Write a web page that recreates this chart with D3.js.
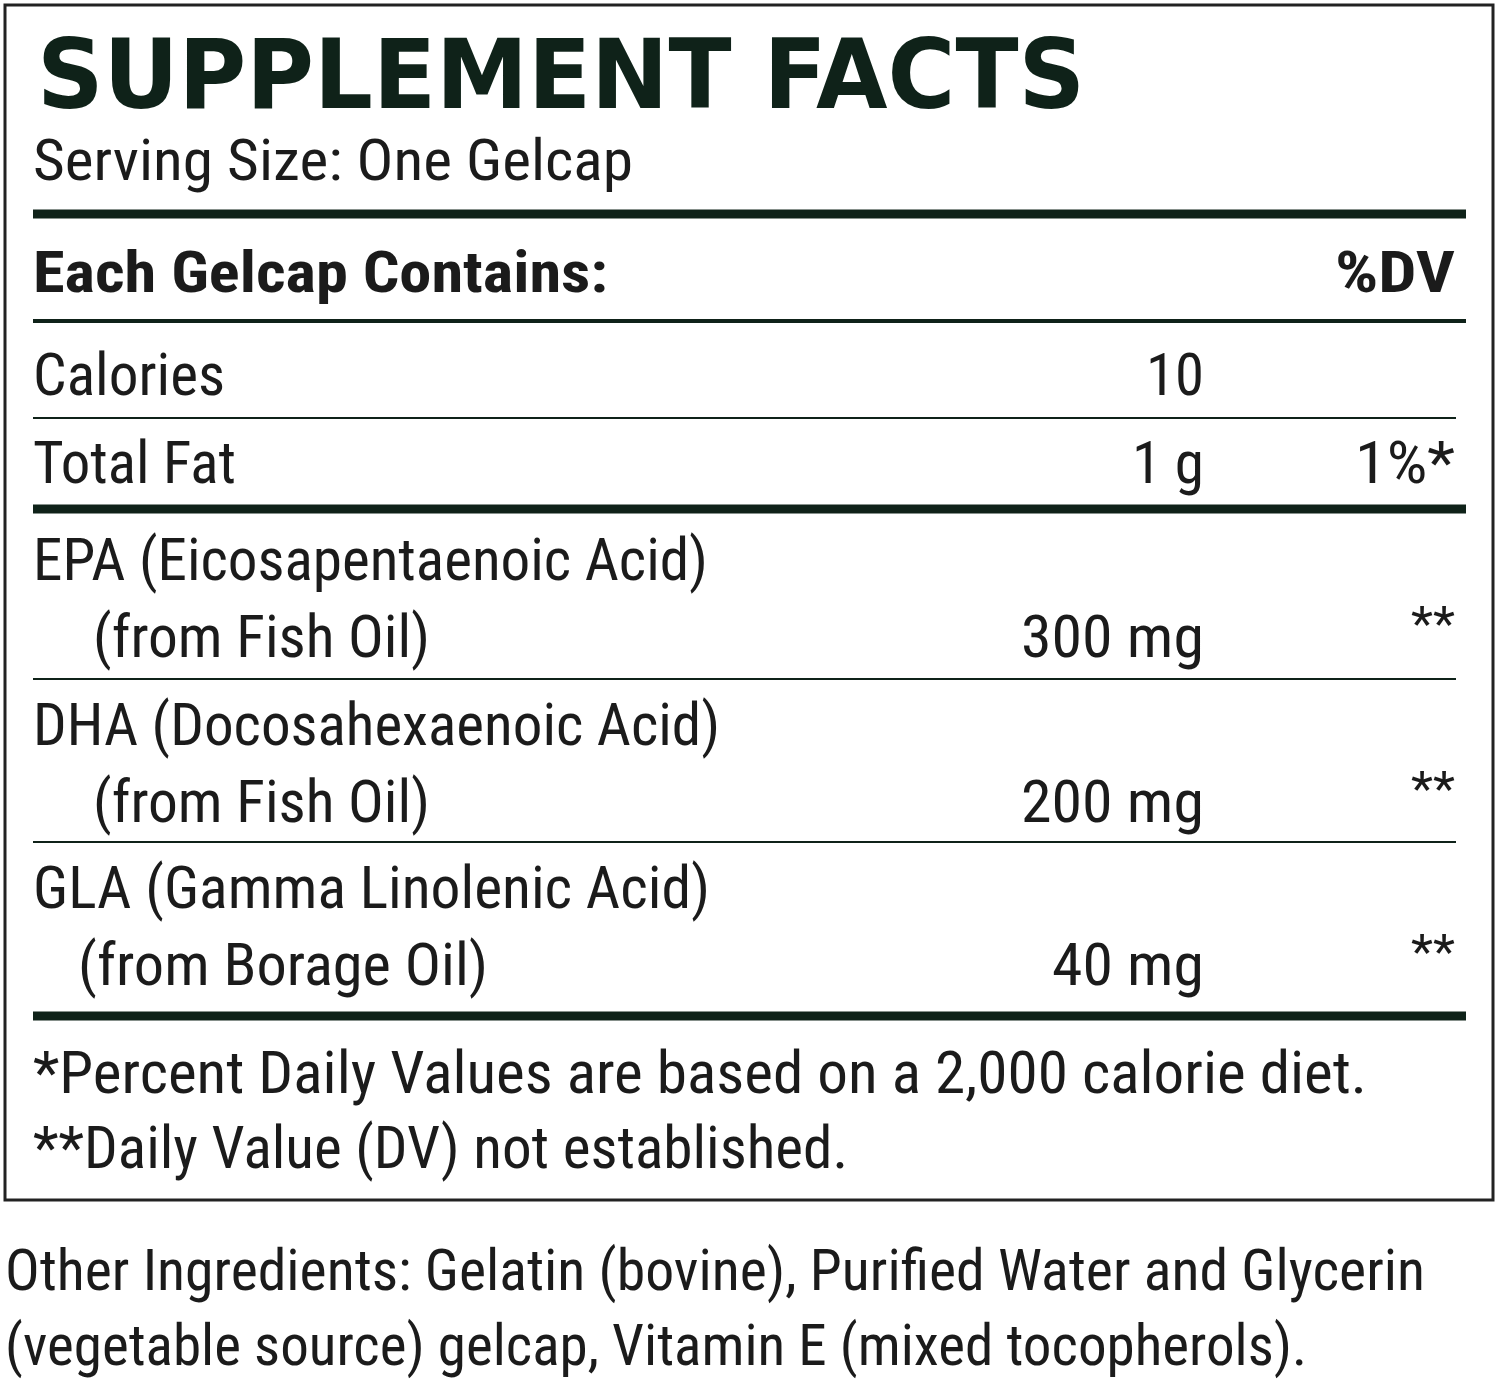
<!DOCTYPE html>
<html><head><meta charset="utf-8">
<script src="https://cdn.jsdelivr.net/npm/d3@7"></script>
<style>body{margin:0;background:#fff}svg{display:block}</style>
</head><body>
<script>
const title = "SUPPLEMENT FACTS";
const servingSize = "Serving Size: One Gelcap";
const headerLeft = "Each Gelcap Contains:";
const headerRight = "%DV";
const nutrients = ["Calories", "Total Fat", "EPA (Eicosapentaenoic Acid)", "DHA (Docosahexaenoic Acid)", "GLA (Gamma Linolenic Acid)"];
const sources = [null, null, "(from Fish Oil)", "(from Fish Oil)", "(from Borage Oil)"];
const amounts = ["10", "1 g", "300 mg", "200 mg", "40 mg"];
const dvs = ["", "1%*", "**", "**", "**"];
const footnotes = ["*Percent Daily Values are based on a 2,000 calorie diet.", "**Daily Value (DV) not established."];
const otherIngredients = ["Other Ingredients: Gelatin (bovine), Purified Water and Glycerin", "(vegetable source) gelcap, Vitamin E (mixed tocopherols)."];

const W = 1500, H = 1383;
const svg = d3.select("body").append("svg").attr("width", W).attr("height", H);
const ink = "#1b1b1b", green = "#0f2219";
const F = "'Liberation Sans Narrow','Roboto Condensed',Roboto,sans-serif";

// layout (baselines per row)
const rowBase = [395, 483, 580, 745, 908];
const srcBase = [null, null, 657, 822, 985];
const srcX = [null, null, 93, 93, 78];
const nameW = [192, 203, 675, 687, 677];
const srcW = [null, null, 337, 337, 410];
const amtW = [58, 72, 183, 183, 152];
const y = d3.scaleLinear().domain([0, 1]).range([0, 1]);

function txt(s, x, yb, size, w, opts = {}) {
  const t = svg.append("text").attr("x", x).attr("y", yb).text(s)
    .attr("font-family", opts.family || F).attr("font-size", size)
    .attr("font-weight", opts.weight || "normal").attr("fill", opts.fill || ink)
    .attr("text-anchor", opts.anchor || "start");
  if (w) t.attr("textLength", w).attr("lengthAdjust", "spacingAndGlyphs");
  return t;
}
function rule(yy, sw, x2 = 1466) {
  svg.append("line").attr("x1", 33).attr("x2", x2).attr("y1", yy).attr("y2", yy)
    .attr("stroke", green).attr("stroke-width", sw);
}

svg.append("rect").attr("x", 5).attr("y", 5).attr("width", 1488).attr("height", 1195)
  .attr("fill", "none").attr("stroke", "#222").attr("stroke-width", 3);

txt(title, 37, 108, 96, 1048, {family: "'DejaVu Sans',sans-serif", weight: "bold", fill: green});
txt(servingSize, 33, 180, 58, 600);
rule(214, 9);
txt(headerLeft, 33, 292, 58, 575, {weight: "bold"});
txt(headerRight, 1455, 292, 58, 120, {weight: "bold", anchor: "end"});
rule(321, 4);

nutrients.forEach((n, i) => {
  txt(n, 33, y(rowBase[i]), 60, nameW[i]);
  const ab = sources[i] ? srcBase[i] : rowBase[i];
  if (sources[i]) txt(sources[i], srcX[i], srcBase[i], 60, srcW[i]);
  txt(amounts[i], 1204, ab, 60, amtW[i], {anchor: "end"});
  if (dvs[i]) {
    const star = dvs[i] === "**";
    txt(dvs[i], 1455, star ? ab - 17 : ab, star ? 48 : 60, star ? 44 : 100, {anchor: "end"});
  }
});
rule(418, 2, 1456);
rule(509, 9);
rule(679, 2, 1456);
rule(842, 2, 1456);
rule(1016, 9);

txt(footnotes[0], 33, 1093, 60, 1334);
txt(footnotes[1], 33, 1168, 60, 815);
txt(otherIngredients[0], 5, 1290, 58, 1420);
txt(otherIngredients[1], 5, 1365, 58, 1302);
</script>
</body></html>
